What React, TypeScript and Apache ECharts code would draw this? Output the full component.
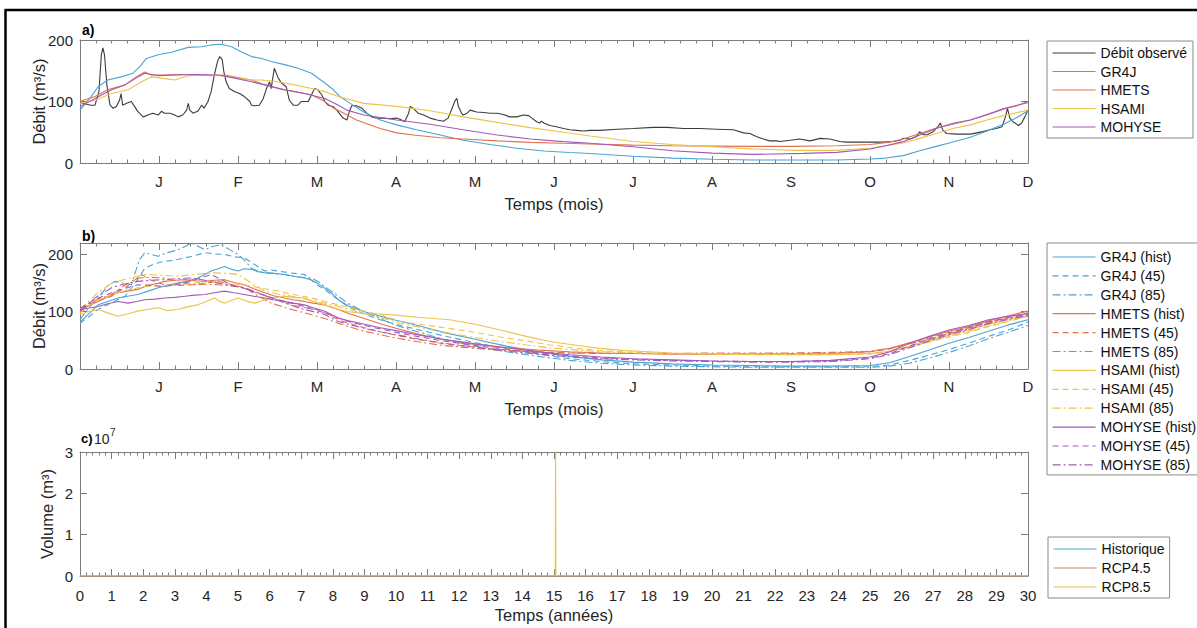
import React, { useEffect, useRef } from 'react';
import * as echarts from 'echarts';

// ---------- categories / tick labels ----------
const MONTH_LABELS = ['J', 'F', 'M', 'A', 'M', 'J', 'J', 'A', 'S', 'O', 'N', 'D'];
const NAMES_A = ['Débit observé', 'GR4J', 'HMETS', 'HSAMI', 'MOHYSE'];
const MODELS = ['GR4J', 'HMETS', 'HSAMI', 'MOHYSE'];
const SCEN = ['hist', '45', '85'];
const NAMES_C = ['Historique', 'RCP4.5', 'RCP8.5'];

// ---------- panel a : [month, m3/s] ----------
const observedA = [
  [0, 98], [0.14, 94], [0.19, 94], [0.24, 116], [0.27, 176], [0.29, 187], [0.31, 176], [0.34, 127], [0.38, 94], [0.42, 89],
  [0.46, 92], [0.5, 102], [0.52, 113], [0.54, 94], [0.59, 97], [0.65, 100], [0.69, 92], [0.73, 84], [0.8, 75], [0.86, 78],
  [0.92, 81], [0.99, 78], [1.03, 84], [1.07, 81], [1.14, 81], [1.2, 78], [1.24, 75], [1.3, 78], [1.35, 86], [1.37, 97],
  [1.39, 86], [1.43, 81], [1.49, 84], [1.54, 94], [1.57, 89], [1.62, 100], [1.66, 116], [1.7, 143], [1.74, 165], [1.77, 173],
  [1.8, 168], [1.82, 149], [1.85, 132], [1.89, 121], [1.96, 116], [2.02, 113], [2.08, 108], [2.15, 100], [2.17, 94], [2.21, 93],
  [2.27, 94], [2.32, 105], [2.36, 121], [2.4, 132], [2.42, 121], [2.44, 138], [2.46, 154], [2.51, 138], [2.55, 130], [2.61, 124],
  [2.65, 102], [2.7, 94], [2.76, 94], [2.8, 100], [2.89, 100], [2.93, 111], [2.97, 121], [3.01, 119], [3.06, 111], [3.1, 100],
  [3.14, 94], [3.2, 92], [3.25, 86], [3.33, 73], [3.38, 70], [3.41, 84], [3.44, 93], [3.5, 93], [3.57, 89], [3.63, 81],
  [3.69, 75], [3.76, 73], [3.84, 73], [3.93, 72], [4.01, 73], [4.07, 70], [4.11, 67], [4.16, 81], [4.18, 92], [4.22, 89],
  [4.28, 81], [4.35, 78], [4.43, 73], [4.52, 70], [4.6, 68], [4.66, 73], [4.71, 89], [4.75, 102], [4.77, 105], [4.79, 92],
  [4.83, 81], [4.85, 78], [4.9, 81], [4.94, 86], [5.02, 83], [5.11, 82], [5.19, 81], [5.28, 81], [5.36, 79], [5.44, 75],
  [5.53, 75], [5.61, 78], [5.68, 77], [5.72, 73], [5.78, 67], [5.82, 65], [5.84, 68], [5.87, 65], [5.95, 61], [6.03, 59],
  [6.12, 56], [6.2, 54], [6.29, 53], [6.37, 52], [6.46, 53], [6.58, 53], [6.8, 55], [7.0, 56], [7.26, 58], [7.43, 58],
  [7.64, 56], [7.85, 56], [8.06, 55], [8.27, 54], [8.4, 49], [8.48, 48], [8.56, 43], [8.65, 39], [8.73, 36], [8.82, 36],
  [8.86, 35], [8.99, 37], [9.11, 39], [9.24, 36], [9.37, 40], [9.49, 39], [9.62, 35], [9.7, 34], [9.83, 34], [10.0, 34],
  [10.17, 34], [10.3, 35], [10.38, 37], [10.42, 40], [10.51, 39], [10.59, 43], [10.63, 51], [10.67, 46], [10.72, 46], [10.8, 51],
  [10.86, 59], [10.89, 65], [10.92, 54], [10.97, 48], [11.1, 47], [11.27, 47], [11.43, 51], [11.52, 54], [11.6, 56], [11.67, 59],
  [11.71, 73], [11.74, 89], [11.77, 73], [11.81, 67], [11.88, 61], [11.92, 65], [11.96, 75], [12.0, 86],
];
const gr4jA = [
  [0, 86], [0.14, 108], [0.23, 124], [0.35, 135], [0.52, 140], [0.67, 146], [0.76, 157], [0.84, 170], [0.99, 176], [1.16, 180],
  [1.37, 188], [1.54, 189], [1.66, 192], [1.79, 193], [1.92, 189], [2.04, 181], [2.17, 173], [2.3, 170], [2.42, 165], [2.59, 160],
  [2.76, 154], [2.93, 146], [3.1, 130], [3.2, 120], [3.29, 108], [3.42, 97], [3.59, 83], [3.8, 70], [4.01, 62], [4.26, 54],
  [4.56, 45.5], [4.85, 37], [5.19, 30], [5.53, 24], [5.87, 19.5], [6.2, 17], [6.46, 15.5], [7.0, 11], [7.5, 8], [8.02, 6],
  [8.5, 5], [9.0, 5], [9.58, 5], [10.0, 6.5], [10.2, 8], [10.42, 12], [10.63, 20], [10.84, 27], [11.05, 34], [11.27, 42],
  [11.48, 52], [11.69, 63], [11.86, 74], [12, 85],
];
const hmetsA = [
  [0, 100], [0.19, 108], [0.35, 119], [0.57, 127], [0.71, 140], [0.82, 148], [0.9, 143], [1.07, 143], [1.24, 144], [1.45, 144],
  [1.66, 142], [1.83, 143], [2.0, 139], [2.17, 135], [2.34, 127], [2.51, 121], [2.72, 116], [2.93, 111], [3.1, 100], [3.2, 90],
  [3.29, 84], [3.5, 70], [3.8, 56], [4.01, 49], [4.22, 45.5], [4.56, 41], [4.85, 39], [5.28, 36], [5.7, 33.6], [6.12, 32],
  [6.46, 31], [7.0, 29], [7.5, 28], [8.0, 27.5], [8.5, 27], [9.0, 27], [9.58, 28], [10.0, 30], [10.25, 34], [10.42, 39],
  [10.63, 48], [10.84, 57], [11.05, 63], [11.27, 70], [11.48, 78], [11.69, 88], [11.86, 94], [12, 98],
];
const hsamiA = [
  [0, 97], [0.19, 102], [0.4, 113], [0.61, 119], [0.78, 132], [0.9, 140], [1.03, 138], [1.2, 135], [1.37, 142], [1.58, 143],
  [1.79, 142], [2.0, 138], [2.17, 135], [2.3, 135], [2.46, 133], [2.72, 127], [2.93, 121], [3.1, 116], [3.27, 108], [3.59, 97],
  [4.01, 92], [4.43, 85], [4.85, 75], [5.28, 66], [5.7, 57.5], [6.12, 50], [6.46, 44], [7.0, 35], [7.5, 30], [8.0, 26.5],
  [8.5, 23], [9.07, 20.5], [9.58, 20.5], [10.0, 24], [10.42, 32.5], [10.63, 40], [10.84, 48], [11.05, 56], [11.27, 62], [11.48, 70],
  [11.69, 77], [12, 86],
];
const mohyseA = [
  [0, 92], [0.19, 105], [0.4, 119], [0.57, 127], [0.71, 138], [0.82, 146], [0.99, 142], [1.24, 143], [1.49, 144], [1.75, 143],
  [1.96, 138], [2.17, 132], [2.34, 127], [2.59, 119], [2.84, 113], [3.1, 105], [3.27, 94], [3.38, 86], [3.59, 78], [4.01, 70],
  [4.43, 63], [4.85, 54], [5.28, 45.5], [5.7, 39], [6.12, 34.7], [6.46, 32], [7.0, 26.5], [7.5, 20], [8.0, 16], [8.5, 14],
  [9.16, 15.7], [9.58, 17.3], [10.0, 22.7], [10.2, 28], [10.42, 34.7], [10.63, 45.5], [10.84, 56], [11.05, 64.5], [11.27, 70], [11.48, 79],
  [11.69, 88], [11.86, 93], [12, 100],
];

// ---------- panel b : [month, m3/s] ----------
const gr4jHist = [
  [0, 82], [0.1, 95], [0.23, 112], [0.35, 118], [0.48, 124], [0.6, 127], [0.73, 130], [0.86, 136], [0.99, 142], [1.1, 146],
  [1.24, 150], [1.35, 153], [1.49, 159], [1.58, 165], [1.66, 171], [1.75, 175], [1.83, 179], [1.92, 174], [2.0, 171], [2.08, 175],
  [2.17, 174], [2.25, 170], [2.34, 168], [2.45, 167], [2.59, 165], [2.7, 162], [2.84, 159], [2.92, 156], [3.0, 150], [3.1, 141],
  [3.18, 133], [3.27, 121], [3.4, 110], [3.6, 100], [3.8, 92], [4.0, 85], [4.3, 75], [4.6, 64], [5.0, 52], [5.4, 40],
  [5.8, 30], [6.2, 22], [6.6, 16], [7.0, 12], [7.5, 9], [8.0, 7], [8.5, 6], [9.0, 5], [9.5, 5], [10.0, 6],
  [10.25, 11], [10.5, 22], [10.75, 33], [11.0, 45], [11.25, 55], [11.5, 66], [11.75, 77], [12.0, 86],
];
const gr4j45 = [
  [0, 80], [0.1, 90], [0.23, 104], [0.4, 116], [0.57, 127], [0.7, 150], [0.82, 176], [0.95, 184], [1.07, 188], [1.2, 190],
  [1.33, 194], [1.45, 198], [1.58, 203], [1.7, 201], [1.83, 200], [1.95, 196], [2.08, 194], [2.17, 186], [2.25, 179], [2.34, 171],
  [2.42, 173], [2.51, 171], [2.65, 168], [2.84, 165], [2.92, 156], [3.0, 147], [3.1, 138], [3.18, 130], [3.27, 121], [3.4, 108],
  [3.6, 96], [3.8, 86], [4.0, 78], [4.3, 68], [4.6, 58], [5.0, 46], [5.4, 35], [5.8, 26], [6.2, 18], [6.6, 13],
  [7.0, 9], [7.5, 7], [8.0, 5], [8.5, 4], [9.0, 4], [9.5, 4], [10.0, 4], [10.25, 7], [10.5, 15], [10.75, 24],
  [11.0, 34], [11.25, 45], [11.5, 57], [11.75, 68], [12.0, 82],
];
const gr4j85 = [
  [0, 86], [0.1, 105], [0.23, 124], [0.35, 145], [0.44, 153], [0.55, 150], [0.65, 147], [0.75, 190], [0.82, 203], [0.9, 200],
  [0.99, 197], [1.1, 203], [1.24, 208], [1.33, 214], [1.41, 220], [1.5, 214], [1.58, 208], [1.68, 214], [1.79, 217], [1.9, 208],
  [2.0, 200], [2.08, 190], [2.17, 176], [2.25, 171], [2.34, 168], [2.45, 167], [2.59, 165], [2.75, 161], [2.93, 159], [3.02, 152],
  [3.1, 144], [3.18, 136], [3.27, 127], [3.4, 114], [3.6, 100], [3.8, 88], [4.0, 76], [4.3, 64], [4.6, 52], [5.0, 40],
  [5.4, 30], [5.8, 22], [6.2, 15], [6.6, 10], [7.0, 7], [7.5, 5], [8.0, 4], [8.5, 3], [9.0, 3], [9.5, 3],
  [10.0, 3], [10.25, 5], [10.5, 10], [10.75, 19], [11.0, 29], [11.25, 40], [11.5, 53], [11.75, 64], [12.0, 76],
];
const hmetsHist = [
  [0, 100], [0.1, 110], [0.23, 118], [0.35, 126], [0.48, 133], [0.6, 136], [0.73, 139], [0.82, 144], [0.9, 147], [1.0, 150],
  [1.07, 153], [1.2, 155], [1.33, 156], [1.45, 154], [1.58, 153], [1.7, 155], [1.83, 156], [1.95, 151], [2.08, 147], [2.2, 140],
  [2.34, 133], [2.45, 128], [2.59, 124], [2.7, 121], [2.84, 118], [2.95, 115], [3.1, 112], [3.18, 108], [3.27, 104], [3.4, 97],
  [3.6, 88], [3.8, 79], [4.0, 71], [4.3, 60], [4.6, 51], [5.0, 43], [5.4, 37], [5.8, 33], [6.2, 30], [6.6, 28],
  [7.0, 27], [7.5, 26], [8.0, 26], [8.5, 26], [9.0, 26], [9.5, 27], [10.0, 30], [10.25, 36], [10.5, 46], [10.75, 56],
  [11.0, 66], [11.25, 74], [11.5, 84], [11.75, 93], [12.0, 101],
];
const hmets45 = [
  [0, 106], [0.2, 118], [0.4, 127], [0.6, 145], [0.78, 165], [0.9, 155], [1.07, 147], [1.25, 146], [1.41, 147], [1.58, 150],
  [1.75, 153], [1.9, 148], [2.08, 142], [2.25, 133], [2.42, 124], [2.6, 116], [2.76, 109], [2.9, 106], [3.0, 104], [3.15, 95],
  [3.27, 86], [3.4, 80], [3.6, 72], [3.8, 65], [4.0, 59], [4.3, 51], [4.6, 44], [5.0, 38], [5.4, 33], [5.8, 30],
  [6.2, 28], [6.6, 27], [7.0, 27], [7.5, 27], [8.0, 27], [8.5, 27], [9.0, 27], [9.5, 28], [10.0, 30], [10.25, 35],
  [10.5, 45], [10.75, 54], [11.0, 64], [11.25, 72], [11.5, 82], [11.75, 90], [12.0, 98],
];
const hmets85 = [
  [0, 104], [0.2, 120], [0.4, 130], [0.55, 145], [0.73, 159], [0.9, 160], [1.07, 159], [1.25, 152], [1.41, 147], [1.58, 148],
  [1.75, 147], [1.9, 145], [2.08, 142], [2.25, 128], [2.42, 115], [2.6, 107], [2.76, 101], [2.9, 96], [3.0, 92], [3.15, 86],
  [3.27, 80], [3.4, 74], [3.6, 66], [3.8, 60], [4.0, 54], [4.3, 47], [4.6, 41], [5.0, 36], [5.4, 32], [5.8, 29],
  [6.2, 28], [6.6, 27], [7.0, 27], [7.5, 27], [8.0, 28], [8.5, 28], [9.0, 28], [9.5, 29], [10.0, 31], [10.25, 36],
  [10.5, 44], [10.75, 52], [11.0, 62], [11.25, 70], [11.5, 80], [11.75, 89], [12.0, 96],
];
const hsamiHist = [
  [0, 95], [0.1, 100], [0.23, 104], [0.35, 98], [0.48, 92], [0.6, 96], [0.73, 101], [0.85, 104], [0.99, 107], [1.1, 102],
  [1.24, 104], [1.35, 108], [1.49, 112], [1.6, 118], [1.7, 124], [1.77, 118], [1.83, 115], [1.92, 120], [2.0, 124], [2.1, 119],
  [2.21, 115], [2.34, 121], [2.45, 124], [2.59, 127], [2.7, 125], [2.84, 124], [2.95, 118], [3.1, 112], [3.27, 104], [3.4, 100],
  [3.6, 97], [3.8, 96], [4.0, 94], [4.3, 90], [4.68, 86], [5.0, 78], [5.32, 68], [5.65, 57], [5.95, 48], [6.3, 41],
  [6.58, 36], [6.9, 32], [7.21, 30], [7.5, 28], [7.85, 27], [8.5, 26], [9.0, 25], [9.5, 25], [10.0, 27], [10.25, 31],
  [10.5, 40], [10.75, 50], [11.0, 59], [11.25, 68], [11.5, 78], [11.75, 86], [12.0, 94],
];
const hsami45 = [
  [0, 98], [0.2, 118], [0.4, 130], [0.6, 138], [0.82, 144], [1.0, 145], [1.24, 147], [1.45, 150], [1.66, 153], [1.85, 150],
  [2.08, 147], [2.3, 141], [2.51, 136], [2.7, 130], [2.93, 124], [3.1, 118], [3.27, 112], [3.5, 104], [3.8, 95], [4.05, 83],
  [4.4, 76], [4.68, 71], [5.0, 64], [5.32, 56], [5.65, 49], [5.95, 42], [6.3, 36], [6.58, 32], [7.0, 29], [7.5, 27],
  [8.0, 26], [8.5, 25], [9.0, 25], [9.5, 25], [10.0, 26], [10.25, 30], [10.5, 38], [10.75, 47], [11.0, 56], [11.25, 64],
  [11.5, 74], [11.75, 83], [12.0, 92],
];
const hsami85 = [
  [0, 104], [0.2, 130], [0.4, 150], [0.6, 158], [0.82, 165], [1.0, 164], [1.24, 162], [1.45, 165], [1.66, 168], [1.85, 167],
  [2.0, 165], [2.17, 150], [2.34, 136], [2.5, 131], [2.68, 127], [2.85, 122], [3.0, 118], [3.15, 113], [3.27, 109], [3.5, 100],
  [3.8, 90], [4.05, 80], [4.4, 70], [4.7, 62], [5.0, 55], [5.32, 48], [5.65, 42], [5.95, 37], [6.3, 33], [6.6, 30],
  [7.0, 28], [7.5, 27], [8.0, 26], [8.5, 26], [9.0, 26], [9.5, 26], [10.0, 27], [10.25, 31], [10.5, 39], [10.75, 48],
  [11.0, 57], [11.25, 66], [11.5, 75], [11.75, 84], [12.0, 93],
];
const mohyseHist = [
  [0, 104], [0.1, 106], [0.23, 109], [0.35, 114], [0.48, 118], [0.61, 115], [0.72, 118], [0.82, 121], [0.95, 122], [1.07, 124],
  [1.2, 125], [1.33, 127], [1.45, 129], [1.58, 130], [1.7, 133], [1.83, 136], [1.95, 133], [2.08, 130], [2.2, 127], [2.34, 124],
  [2.45, 121], [2.59, 118], [2.7, 115], [2.84, 112], [2.95, 107], [3.1, 101], [3.18, 95], [3.27, 89], [3.4, 84], [3.6, 78],
  [3.8, 72], [4.0, 67], [4.3, 59], [4.6, 52], [5.0, 44], [5.4, 37], [5.8, 30], [6.2, 25], [6.6, 21], [7.0, 18],
  [7.5, 16], [8.0, 14], [8.5, 13], [9.0, 13], [9.5, 15], [10.0, 21], [10.25, 30], [10.5, 45], [10.75, 57], [11.0, 68],
  [11.25, 76], [11.5, 86], [11.75, 92], [12.0, 97],
];
const mohyse45 = [
  [0, 106], [0.2, 122], [0.4, 133], [0.55, 140], [0.73, 147], [0.9, 146], [1.07, 144], [1.25, 148], [1.41, 153], [1.55, 160],
  [1.66, 165], [1.8, 155], [1.92, 147], [2.05, 142], [2.17, 136], [2.35, 128], [2.51, 121], [2.68, 115], [2.84, 109], [2.97, 103],
  [3.1, 98], [3.27, 89], [3.4, 83], [3.6, 76], [3.8, 70], [4.0, 64], [4.3, 56], [4.6, 49], [5.0, 41], [5.4, 34],
  [5.8, 28], [6.2, 23], [6.6, 19], [7.0, 17], [7.5, 15], [8.0, 14], [8.5, 13], [9.0, 13], [9.5, 14], [10.0, 19],
  [10.25, 27], [10.5, 40], [10.75, 52], [11.0, 62], [11.25, 72], [11.5, 82], [11.75, 90], [12.0, 95],
];
const mohyse85 = [
  [0, 101], [0.2, 125], [0.4, 142], [0.55, 148], [0.73, 153], [0.9, 155], [1.07, 156], [1.25, 158], [1.41, 159], [1.58, 155],
  [1.75, 150], [1.9, 146], [2.08, 142], [2.25, 133], [2.42, 124], [2.6, 115], [2.76, 107], [2.93, 101], [3.1, 95], [3.18, 89],
  [3.27, 83], [3.4, 78], [3.6, 71], [3.8, 65], [4.0, 60], [4.3, 52], [4.6, 45], [5.0, 38], [5.4, 31], [5.8, 26],
  [6.2, 21], [6.6, 18], [7.0, 16], [7.5, 14], [8.0, 13], [8.5, 12], [9.0, 12], [9.5, 13], [10.0, 18], [10.25, 25],
  [10.5, 37], [10.75, 49], [11.0, 60], [11.25, 69], [11.5, 79], [11.75, 87], [12.0, 93],
];

// ---------- panel c : [year, m3] ----------
const volHist = [[0, 0], [30, 0]];
const volRcp45 = [[0, 0], [30, 0]];
const volRcp85 = [[0, 0], [15.04, 0], [15.05, 32000000], [15.06, 0], [30, 0]];

// ---------- styling ----------
const FONT = '"Liberation Sans", Arial, Helvetica, sans-serif';
const AXIS_COLOR = '#7c7c7c';
const TEXT_COLOR = '#262626';
const C_OBS = '#3c3c3c';
const C_GR4J = '#4ba3d3';
const C_HMETS = '#e0744e';
const C_HSAMI = '#efc24a';
const C_MOHYSE = '#a259bb';
const MODEL_COLORS = [C_GR4J, C_HMETS, C_HSAMI, C_MOHYSE];
const DASHES: any[] = ['solid', [6, 4], [8, 3, 2, 3]];
const LW = 1.1;

const B_DATA = [
  [gr4jHist, gr4j45, gr4j85],
  [hmetsHist, hmets45, hmets85],
  [hsamiHist, hsami45, hsami85],
  [mohyseHist, mohyse45, mohyse85],
];

const tickLabelStyle = { color: TEXT_COLOR, fontSize: 15, fontFamily: FONT };
const nameStyle = { color: TEXT_COLOR, fontSize: 16.5, fontFamily: FONT };

function xAxisDef(grid: number, top: boolean, max: number, formatter: any, name: string, nameGap: number, labelMargin: number) {
  return {
    type: 'value',
    gridIndex: grid,
    position: top ? 'top' : 'bottom',
    min: 0,
    max,
    interval: 1,
    axisLine: { show: true, onZero: false, lineStyle: { color: AXIS_COLOR, width: 1 } },
    axisTick: { show: true, inside: true, length: 7, lineStyle: { color: AXIS_COLOR, width: 1 } },
    minorTick: { show: true, splitNumber: 5, length: 3.5, lineStyle: { color: AXIS_COLOR, width: 1 } },
    splitLine: { show: false },
    minorSplitLine: { show: false },
    axisLabel: { show: !top, formatter, margin: labelMargin, ...tickLabelStyle, showMinLabel: true, showMaxLabel: true },
    name: top ? '' : name,
    nameLocation: 'middle',
    nameGap,
    nameMoveOverlap: false,
    nameTextStyle: nameStyle,
  };
}

function yAxisDef(grid: number, right: boolean, max: number, interval: number, formatter: any, name: string, nameGap: number, showMax: boolean) {
  return {
    type: 'value',
    gridIndex: grid,
    position: right ? 'right' : 'left',
    min: 0,
    max,
    interval,
    axisLine: { show: true, onZero: false, lineStyle: { color: AXIS_COLOR, width: 1 } },
    axisTick: { show: true, inside: true, length: 7, lineStyle: { color: AXIS_COLOR, width: 1 } },
    splitLine: { show: false },
    axisLabel: { show: !right, formatter, margin: 7, ...tickLabelStyle, showMaxLabel: showMax },
    name: right ? '' : name,
    nameLocation: 'middle',
    nameGap,
    nameMoveOverlap: false,
    nameTextStyle: nameStyle,
  };
}

const monthFmt = (v: number) => MONTH_LABELS[Math.round(v) - 1] ?? '';
const plainFmt = (v: number) => String(v);
const volFmt = (v: number) => String(Math.round(v / 1e7));

function line(name: string, data: number[][], color: string, dash: any, xi: number, yi: number) {
  return {
    type: 'line',
    name,
    data,
    xAxisIndex: xi,
    yAxisIndex: yi,
    symbol: 'none',
    showSymbol: false,
    smooth: false,
    clip: true,
    lineStyle: { color, width: LW, type: dash },
    itemStyle: { color },
    emphasis: { disabled: true },
  };
}

const legendBase = {
  orient: 'vertical',
  selectedMode: false,
  itemWidth: 43,
  itemHeight: 14,
  backgroundColor: '#ffffff',
  borderColor: '#8a8a8a',
  borderWidth: 1,
  borderRadius: 0,
  itemStyle: { opacity: 0 },
  lineStyle: { width: 1.2, color: 'inherit', type: 'inherit' },
  textStyle: { color: '#111', fontSize: 14, fontFamily: FONT },
};

function buildOption() {
  const seriesA = [
    line(NAMES_A[0], observedA, C_OBS, 'solid', 0, 0),
    line(NAMES_A[1], gr4jA, C_GR4J, 'solid', 0, 0),
    line(NAMES_A[2], hmetsA, C_HMETS, 'solid', 0, 0),
    line(NAMES_A[3], hsamiA, C_HSAMI, 'solid', 0, 0),
    line(NAMES_A[4], mohyseA, C_MOHYSE, 'solid', 0, 0),
  ];
  const namesB: string[] = [];
  const seriesB: any[] = [];
  MODELS.forEach((m, i) => {
    SCEN.forEach((s, j) => {
      const nm = `${m} (${s})`;
      namesB.push(nm);
      seriesB.push(line(nm, B_DATA[i][j], MODEL_COLORS[i], DASHES[j], 2, 2));
    });
  });
  const seriesC = [
    line(NAMES_C[0], volHist, '#4aa9c9', 'solid', 4, 4),
    line(NAMES_C[1], volRcp45, '#d9825e', 'solid', 4, 4),
    line(NAMES_C[2], volRcp85, '#e9c24c', 'solid', 4, 4),
  ];

  return {
    animation: false,
    backgroundColor: '#ffffff',
    textStyle: { fontFamily: FONT },
    grid: [
      { left: 80, top: 40, width: 948, height: 123, outerBoundsMode: 'none' },
      { left: 80, top: 243, width: 948, height: 126, outerBoundsMode: 'none' },
      { left: 80, top: 452, width: 948, height: 124, outerBoundsMode: 'none' },
    ],
    xAxis: [
      xAxisDef(0, false, 12, monthFmt, 'Temps (mois)', 32, 11),
      xAxisDef(0, true, 12, monthFmt, '', 0, 11),
      xAxisDef(1, false, 12, monthFmt, 'Temps (mois)', 31, 10),
      xAxisDef(1, true, 12, monthFmt, '', 0, 10),
      xAxisDef(2, false, 30, plainFmt, 'Temps (années)', 30, 12),
      xAxisDef(2, true, 30, plainFmt, '', 0, 12),
    ],
    yAxis: [
      yAxisDef(0, false, 200, 100, plainFmt, 'Débit (m³/s)', 33, true),
      yAxisDef(0, true, 200, 100, plainFmt, '', 0, true),
      yAxisDef(1, false, 220, 100, plainFmt, 'Débit (m³/s)', 33, false),
      yAxisDef(1, true, 220, 100, plainFmt, '', 0, false),
      yAxisDef(2, false, 30000000, 10000000, volFmt, 'Volume (m³)', 25, true),
      yAxisDef(2, true, 30000000, 10000000, volFmt, '', 0, true),
    ],
    legend: [
      { ...legendBase, data: NAMES_A, left: 1047, top: 41, itemGap: 4.5, padding: [5, 6, 4, 5] },
      { ...legendBase, data: namesB, left: 1047, top: 243, itemGap: 4.9, padding: [7, 3, 3, 5] },
      { ...legendBase, data: NAMES_C, left: 1048, top: 537, itemGap: 5, padding: [5, 5, 4, 5] },
    ],
    graphic: [
      { type: 'line', shape: { x1: 5, y1: 10, x2: 1197, y2: 10 }, style: { stroke: '#000', lineWidth: 2.5 }, silent: true },
      { type: 'line', shape: { x1: 5.5, y1: 9, x2: 5.5, y2: 628 }, style: { stroke: '#000', lineWidth: 2.5 }, silent: true },
      { type: 'text', x: 82, y: 30, style: { text: 'a)', font: `bold 14px ${FONT}`, fill: '#000', verticalAlign: 'middle' } },
      { type: 'text', x: 82, y: 236, style: { text: 'b)', font: `bold 14px ${FONT}`, fill: '#000', verticalAlign: 'middle' } },
      { type: 'text', x: 81, y: 438, style: { text: 'c)', font: `bold 13px ${FONT}`, fill: '#000', verticalAlign: 'middle' } },
      { type: 'text', x: 94, y: 439, style: { text: '10', font: `14px ${FONT}`, fill: TEXT_COLOR, verticalAlign: 'middle' } },
      { type: 'text', x: 110, y: 432, style: { text: '7', font: `10px ${FONT}`, fill: TEXT_COLOR, verticalAlign: 'middle' } },
    ],
    series: [...seriesA, ...seriesB, ...seriesC],
  };
}

export default function App() {
  const ref = useRef<HTMLDivElement>(null);
  useEffect(() => {
    if (!ref.current) return;
    const chart = echarts.init(ref.current, null, { renderer: 'svg' });
    chart.setOption(buildOption() as any);
    return () => chart.dispose();
  }, []);
  return (
    <div
      ref={ref}
      style={{ position: 'fixed', left: 0, top: 0, width: 1197, height: 628, background: '#fff' }}
    />
  );
}
